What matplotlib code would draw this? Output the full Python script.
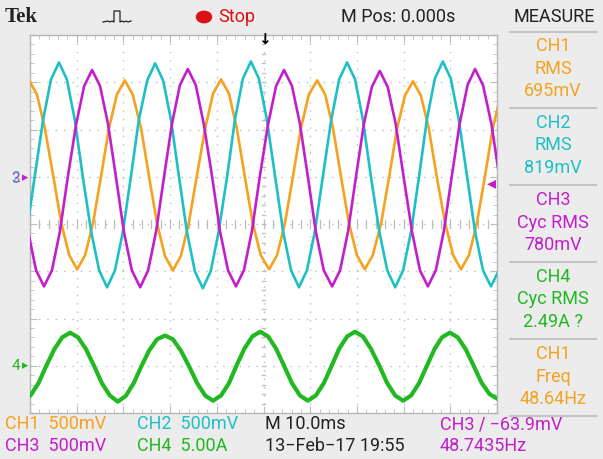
import numpy as np
import matplotlib
matplotlib.use("Agg")
import matplotlib.pyplot as plt
from matplotlib.lines import Line2D
from matplotlib.patches import Circle

# 数据: 时间 (ms) 与电压 (V) / 电流 (A), 从示波器截图中逐点读取
ch1_t = [-0.2, 1.5, 3.2, 5.0, 6.7, 8.4, 10.1, 11.8, 13.5, 15.2, 16.9, 18.6,
         20.3, 22.0, 23.8, 25.5, 27.2, 28.9, 30.6, 32.3, 34.0, 35.7, 37.5, 39.2,
         40.9, 42.6, 44.3, 46.0, 47.7, 49.4, 51.2, 52.9, 54.6, 56.3, 58.0, 59.7,
         61.5, 63.2, 64.9, 66.6, 68.3, 70.0, 71.7, 73.4, 75.2, 76.9, 78.6, 80.3,
         82.0, 83.7, 85.4, 87.1, 88.9, 90.6, 92.3, 94.0, 95.7, 97.4, 99.1, 100.8, 102.6]
ch1_v = [1.02, 0.87, 0.51, 0.00, -0.49, -0.83, -0.98, -0.83, -0.49, 0.00, 0.51, 0.87,
         1.02, 0.87, 0.51, 0.00, -0.49, -0.84, -0.99, -0.84, -0.49, 0.00, 0.51, 0.88,
         1.03, 0.88, 0.51, 0.00, -0.49, -0.83, -0.98, -0.83, -0.49, 0.00, 0.51, 0.87,
         1.02, 0.87, 0.51, 0.00, -0.49, -0.83, -0.98, -0.83, -0.49, 0.00, 0.51, 0.86,
         1.01, 0.86, 0.51, 0.00, -0.49, -0.83, -0.98, -0.83, -0.49, 0.00, 0.51, 0.87, 1.02]

ch2_t = [-4.1, -2.4, -0.7, 1.0, 2.8, 4.5, 6.2, 7.9, 9.6, 11.3, 13.1, 14.8,
         16.5, 18.2, 19.9, 21.6, 23.3, 25.1, 26.8, 28.5, 30.2, 31.9, 33.6, 35.3,
         37.0, 38.7, 40.4, 42.2, 43.9, 45.6, 47.3, 49.0, 50.7, 52.5, 54.2, 55.9,
         57.6, 59.3, 61.0, 62.7, 64.5, 66.2, 67.9, 69.6, 71.3, 73.0, 74.8, 76.5,
         78.2, 79.9, 81.6, 83.3, 85.0, 86.7, 88.4, 90.1, 91.8, 93.6, 95.3, 97.0,
         98.7, 100.4, 102.1]
ch2_v = [-1.17, -0.99, -0.58, 0.00, 0.60, 1.03, 1.21, 1.03, 0.60, 0.00, -0.58, -0.99,
         -1.17, -0.99, -0.58, 0.00, 0.60, 1.02, 1.20, 1.02, 0.60, 0.00, -0.58, -1.00,
         -1.18, -1.00, -0.58, 0.00, 0.61, 1.04, 1.22, 1.04, 0.61, 0.00, -0.58, -0.99,
         -1.17, -0.99, -0.58, 0.00, 0.60, 1.03, 1.21, 1.03, 0.60, 0.00, -0.58, -0.99,
         -1.17, -0.99, -0.58, 0.00, 0.61, 1.04, 1.22, 1.04, 0.61, 0.00, -0.58, -0.99,
         -1.16, -0.99, -0.58]

ch3_t = [-7.3, -5.6, -3.9, -2.2, -0.4, 1.3, 3.0, 4.7, 6.4, 8.1, 9.9, 11.6,
         13.3, 15.0, 16.7, 18.4, 20.1, 21.8, 23.6, 25.3, 27.0, 28.7, 30.4, 32.1,
         33.8, 35.5, 37.2, 39.0, 40.7, 42.4, 44.1, 45.8, 47.5, 49.2, 51.0, 52.7,
         54.4, 56.1, 57.8, 59.5, 61.2, 62.9, 64.7, 66.4, 68.1, 69.8, 71.5, 73.2,
         74.9, 76.6, 78.3, 80.0, 81.8, 83.5, 85.2, 86.9, 88.6, 90.3, 92.0, 93.7,
         95.3, 97.0, 98.8, 100.5, 102.2]
ch3_v = [1.13, 0.96, 0.56, 0.00, -0.58, -0.99, -1.16, -0.99, -0.58, 0.00, 0.56, 0.96,
         1.13, 0.96, 0.56, 0.00, -0.58, -0.99, -1.17, -0.99, -0.58, 0.00, 0.56, 0.97,
         1.14, 0.97, 0.56, 0.00, -0.58, -0.99, -1.16, -0.99, -0.58, 0.00, 0.56, 0.96,
         1.13, 0.96, 0.56, 0.00, -0.58, -0.99, -1.16, -0.99, -0.58, 0.00, 0.56, 0.95,
         1.12, 0.95, 0.56, 0.00, -0.58, -0.99, -1.16, -0.99, -0.58, 0.00, 0.56, 0.97,
         1.14, 0.97, 0.56, 0.00, -0.58]

ch4_t = [-1.6, 0.1, 1.8, 3.5, 5.2, 6.9, 8.6, 10.3, 12.0, 13.7, 15.4, 17.1,
         18.8, 20.5, 22.2, 23.9, 25.5, 27.2, 28.9, 30.6, 32.3, 34.0, 35.8, 37.5,
         39.2, 40.9, 42.6, 44.2, 45.9, 47.6, 49.3, 51.0, 52.7, 54.4, 56.1, 57.8,
         59.5, 61.2, 62.9, 64.6, 66.2, 67.9, 69.6, 71.3, 73.0, 74.8, 76.5, 78.2,
         79.9, 81.6, 83.3, 85.0, 86.6, 88.2, 89.9, 91.6, 93.3, 95.0, 96.7, 98.4, 100.1]
ch4_i = [-3.7, -3.15, -1.85, 0.0, 1.75, 3.0, 3.5, 3.0, 1.75, 0.0, -1.85, -3.15,
         -3.8, -3.2, -1.85, 0.0, 1.6, 2.8, 3.2, 2.8, 1.6, 0.0, -1.85, -3.15,
         -3.7, -3.15, -1.85, 0.0, 1.8, 3.1, 3.6, 3.1, 1.8, 0.0, -1.85, -3.15,
         -3.7, -3.15, -1.85, 0.0, 1.8, 3.1, 3.6, 3.1, 1.8, 0.0, -1.85, -3.15,
         -3.7, -3.15, -1.85, 0.0, 1.75, 3.0, 3.5, 3.0, 1.75, 0.0, -1.8, -3.0, -3.5]

# 每格刻度和零点位置 (格)
scale = {"CH1": 0.5, "CH2": 0.5, "CH3": 0.5, "CH4": 5.0}
offset = {"CH1": 1.0, "CH2": 1.0, "CH3": 1.0, "CH4": -3.0}

c_or = "#f5a21e"
c_cy = "#1fbfc6"
c_mg = "#c21fcc"
c_gr = "#22b822"
bg = "#ececec"

W, H = 603, 459
fig = plt.figure(figsize=(W / 100, H / 100), dpi=100, facecolor=bg)

def P(x, y):
    return (x / W, 1 - y / H)

ax = fig.add_axes([30 / W, (H - 413) / H, 467 / W, 378 / H])
ax.set_facecolor("white")
ax.set_xlim(0, 100)
ax.set_ylim(-4, 4)

# 网格
for gx in np.arange(10, 100, 10):
    ax.axvline(gx, color="#bdbdbd", lw=0.9, ls=(0, (1.2, 5.5)), zorder=0)
for gy in np.arange(-3, 4, 1):
    ax.axhline(gy, color="#bdbdbd", lw=0.9, ls=(0, (1.2, 5.5)), zorder=0)
ax.set_xticks(np.arange(0, 101, 10))
ax.set_yticks(np.arange(-4, 5, 1))
ax.set_xticks(np.arange(0, 101, 2), minor=True)
ax.set_yticks(np.arange(-4, 4.01, 0.2), minor=True)
ax.tick_params(which="both", direction="in", top=True, right=True, color="#bdbdbd",
               labelbottom=False, labelleft=False)
ax.tick_params(which="major", length=5)
ax.tick_params(which="minor", length=3)
# 中心十字线的小刻度
for mx in np.arange(0, 100.01, 2):
    ax.plot([mx, mx], [-0.08, 0.08], color="#bdbdbd", lw=0.9, zorder=0)
for my in np.arange(-4, 4.01, 0.2):
    ax.plot([49.6, 50.4], [my, my], color="#bdbdbd", lw=0.9, zorder=0)
for s in ax.spines.values():
    s.set_color("#b5b5b5")
    s.set_linewidth(1.0)

def to_div(vals, ch):
    return [offset[ch] + v / scale[ch] for v in vals]

ax.plot(ch1_t, to_div(ch1_v, "CH1"), color=c_or, lw=1.9, zorder=3)
ax.plot(ch2_t, to_div(ch2_v, "CH2"), color=c_cy, lw=1.9, zorder=3)
ax.plot(ch3_t, to_div(ch3_v, "CH3"), color=c_mg, lw=1.9, zorder=4)
ax.plot(ch4_t, to_div(ch4_i, "CH4"), color=c_gr, lw=3.0, zorder=3)

font = ["Roboto", "DejaVu Sans"]

# 顶部
fig.text(*P(5, 17), "Tek", family=["Liberation Serif", "DejaVu Serif"], weight="bold",
         fontsize=15, va="center", ha="left", color="#222222")
px = [103, 108, 110, 112, 114, 114, 120, 120, 122, 124, 126, 128, 131]
py = [22, 21, 22, 21, 22, 11, 11, 22, 21, 22, 21, 22, 21]
fig.add_artist(Line2D([x / W for x in px], [1 - y / H for y in py], color="#222222", lw=0.9))
fig.add_artist(Circle(P(204, 17), 7.5 / W, color="#dd1111", transform=fig.transFigure))
fig.text(*P(218, 17), "Stop", family=font, fontsize=13, color="#dd1111", va="center", ha="left")
fig.text(*P(398, 17), "M Pos: 0.000s", family=font, fontsize=13, color="#222222", va="center", ha="center")
fig.text(*P(554, 17), "MEASURE", family=font, fontsize=13, color="#222222", va="center", ha="center")
fig.add_artist(Line2D([510 / W, 596 / W], [1 - 32 / H] * 2, color="#c4c4c4", lw=1.5))
fig.text(*P(264, 40), "\u2193", family=["DejaVu Sans"], weight="bold", fontsize=11,
         color="black", va="center", ha="center")

# 右侧测量面板
meas = [
    (["CH1", "RMS", "695mV"], c_or),
    (["CH2", "RMS", "819mV"], c_cy),
    (["CH3", "Cyc RMS", "780mV"], c_mg),
    (["CH4", "Cyc RMS", "2.49A ?"], c_gr),
    (["CH1", "Freq", "48.64Hz"], c_or),
]
for k, (lines, col) in enumerate(meas):
    y0 = 46 + k * 77
    for j, s in enumerate(lines):
        fig.text(*P(553, y0 + j * 22.5), s, family=font, fontsize=13, color=col,
                 va="center", ha="center")
    fig.add_artist(Line2D([510 / W, 596 / W], [1 - (108 + k * 77) / H] * 2, color="#c4c4c4", lw=1.5))

# 左侧通道标记
fig.text(*P(16, 178), "2", family=font, fontsize=11, color=c_cy, va="center", ha="center")
fig.text(*P(16, 179), "3", family=font, fontsize=11, color=c_mg, va="center", ha="center", alpha=0.7)
fig.text(*P(25, 178), "\u25b8", family=["DejaVu Sans"], fontsize=9, color=c_mg, va="center", ha="center")
fig.text(*P(16, 366), "4", family=font, fontsize=11, color=c_gr, va="center", ha="center")
fig.text(*P(25, 366), "\u25b8", family=["DejaVu Sans"], fontsize=9, color=c_gr, va="center", ha="center")
fig.text(*P(491, 183), "\u25c2", family=["DejaVu Sans"], fontsize=13, color=c_mg, va="center", ha="center")

# 底部
row1, row2 = 424, 446
fig.text(*P(5, row1), "CH1  500mV", family=font, fontsize=13, color=c_or, va="center")
fig.text(*P(137, row1), "CH2  500mV", family=font, fontsize=13, color=c_cy, va="center")
fig.text(*P(265, row1), "M 10.0ms", family=font, fontsize=13, color="#222222", va="center")
fig.text(*P(440, row1), "CH3 \u2215 \u221263.9mV", family=font, fontsize=13,
         color=c_mg, va="center")
fig.text(*P(5, row2), "CH3  500mV", family=font, fontsize=13, color=c_mg, va="center")
fig.text(*P(137, row2), "CH4  5.00A", family=font, fontsize=13, color=c_gr, va="center")
fig.text(*P(265, row2), "13\u2212Feb\u221217 19:55", family=font, fontsize=13, color="#222222", va="center")
fig.text(*P(440, row2), "48.7435Hz", family=font, fontsize=13, color=c_mg, va="center")

fig.savefig("out.png", dpi=100, facecolor=bg)
